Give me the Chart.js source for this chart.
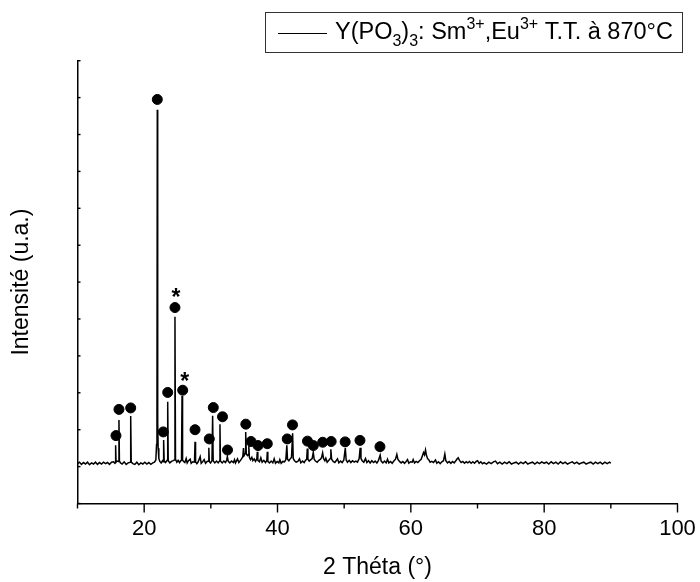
<!DOCTYPE html>
<html>
<head>
<meta charset="utf-8">
<script src="https://cdn.jsdelivr.net/npm/chart.js@4/dist/chart.umd.min.js"></script>
<style>
  body { margin: 0; background: #fff; }
  #chart { display: block; }
</style>
</head>
<body>
<canvas id="chart" width="700" height="582"></canvas>
<script>
// XRD scan: [2 theta, intensity (a.u.)]
const scan = [
  [10.0,1.08],[10.3,1.12],[10.6,1.06],[10.9,1.11],[11.2,1.07],[11.5,1.12],[11.8,1.05],[12.1,1.10],
  [12.4,1.07],[12.7,1.12],[13.0,1.06],[13.3,1.11],[13.6,1.07],[13.9,1.12],[14.2,1.08],[14.5,1.11],
  [14.8,1.06],[15.1,1.12],[15.4,1.13],[15.6,1.09],[15.66,1.11],[15.72,1.58],[15.78,1.12],[15.95,1.15],
  [16.15,1.14],[16.22,2.26],[16.29,1.15],[16.45,1.10],[16.7,1.07],[17.0,1.13],[17.3,1.06],[17.6,1.10],
  [17.9,1.12],[17.98,2.37],[18.06,1.12],[18.3,1.08],[18.6,1.06],[18.9,1.12],[19.2,1.05],[19.5,1.10],
  [19.8,1.07],[20.1,1.12],[20.4,1.07],[20.7,1.11],[21.0,1.06],[21.3,1.10],[21.55,1.12],[21.75,1.18],
  [21.86,1.6],[21.92,2.4],[21.97,10.67],[22.03,2.2],[22.1,1.5],[22.2,1.22],[22.35,1.14],[22.55,1.10],
  [22.75,1.16],[22.84,1.13],[22.92,1.72],[23.0,1.15],[23.2,1.11],[23.45,1.17],[23.53,2.76],[23.61,1.16],
  [23.85,1.10],[24.1,1.14],[24.35,1.16],[24.54,1.18],[24.62,5.06],[24.7,1.2],[24.9,1.12],[25.1,1.17],
  [25.3,1.11],[25.5,1.16],[25.6,1.17],[25.68,2.91],[25.76,1.17],[25.95,1.13],[26.1,1.11],[26.3,1.22],
  [26.45,1.10],[26.65,1.16],[26.9,1.20],[27.05,1.09],[27.3,1.13],[27.55,1.12],[27.63,1.67],[27.71,1.13],
  [27.9,1.08],[28.1,1.13],[28.4,1.27],[28.55,1.09],[28.8,1.14],[29.0,1.19],[29.2,1.09],[29.45,1.14],
  [29.63,1.15],[29.7,1.51],[29.77,1.14],[29.95,1.10],[30.17,1.16],[30.27,2.38],[30.35,1.16],[30.6,1.10],
  [30.85,1.15],[31.1,1.10],[31.3,1.15],[31.37,2.15],[31.44,1.15],[31.7,1.10],[31.95,1.15],[32.2,1.11],
  [32.38,1.18],[32.48,1.27],[32.6,1.15],[32.85,1.10],[33.1,1.15],[33.4,1.11],[33.55,1.19],[33.7,1.10],
  [34.0,1.21],[34.2,1.11],[34.45,1.17],[34.65,1.22],[34.8,1.28],[34.9,1.5],[35.0,1.3],[35.15,1.35],
  [35.23,1.94],[35.32,1.35],[35.5,1.3],[35.63,1.32],[35.7,1.56],[35.78,1.25],[35.95,1.19],[36.15,1.25],
  [36.3,1.16],[36.5,1.21],[36.7,1.14],[36.9,1.21],[36.97,1.40],[37.05,1.17],[37.3,1.13],[37.5,1.24],
  [37.7,1.12],[37.95,1.17],[38.2,1.11],[38.4,1.17],[38.47,1.40],[38.55,1.14],[38.8,1.10],[39.05,1.15],
  [39.3,1.10],[39.5,1.21],[39.7,1.09],[39.95,1.14],[40.2,1.10],[40.35,1.19],[40.55,1.09],[40.8,1.14],
  [41.05,1.13],[41.25,1.19],[41.4,1.58],[41.5,1.2],[41.7,1.16],[41.9,1.21],[42.1,1.25],[42.27,1.90],
  [42.36,1.22],[42.55,1.16],[42.8,1.12],[43.05,1.14],[43.3,1.21],[43.5,1.10],[43.75,1.15],[44.0,1.11],
  [44.2,1.17],[44.38,1.2],[44.47,1.49],[44.56,1.2],[44.75,1.15],[45.0,1.19],[45.2,1.22],[45.37,1.39],
  [45.5,1.2],[45.7,1.15],[45.95,1.12],[46.2,1.17],[46.45,1.2],[46.6,1.24],[46.77,1.37],[46.9,1.22],
  [47.1,1.16],[47.25,1.23],[47.45,1.12],[47.7,1.17],[47.9,1.22],[48.0,1.47],[48.12,1.2],[48.35,1.14],
  [48.6,1.11],[48.8,1.16],[49.0,1.21],[49.2,1.10],[49.45,1.15],[49.7,1.11],[49.95,1.18],[50.17,1.50],
  [50.3,1.18],[50.5,1.12],[50.75,1.17],[51.0,1.11],[51.25,1.16],[51.5,1.12],[51.75,1.15],[52.0,1.12],
  [52.25,1.22],[52.4,1.51],[52.52,1.22],[52.7,1.16],[52.95,1.12],[53.2,1.22],[53.4,1.11],[53.65,1.16],
  [53.9,1.10],[54.15,1.16],[54.4,1.11],[54.65,1.15],[54.9,1.10],[55.15,1.17],[55.4,1.31],[55.55,1.15],
  [55.8,1.10],[56.05,1.15],[56.3,1.10],[56.5,1.20],[56.7,1.10],[56.95,1.14],[57.2,1.09],[57.45,1.15],
  [57.7,1.2],[57.9,1.33],[58.05,1.2],[58.3,1.14],[58.55,1.10],[58.8,1.14],[59.05,1.09],[59.3,1.14],
  [59.5,1.19],[59.7,1.09],[59.95,1.13],[60.2,1.12],[60.35,1.19],[60.55,1.10],[60.8,1.14],[61.05,1.11],
  [61.3,1.16],[61.55,1.2],[61.75,1.3],[61.9,1.38],[62.05,1.32],[62.2,1.45],[62.35,1.3],[62.5,1.22],
  [62.7,1.18],[62.9,1.12],[63.15,1.14],[63.4,1.11],[63.7,1.18],[63.9,1.09],[64.15,1.13],[64.4,1.08],
  [64.65,1.13],[64.9,1.16],[65.1,1.34],[65.25,1.16],[65.5,1.10],[65.75,1.14],[66.0,1.09],[66.25,1.14],
  [66.5,1.10],[66.75,1.16],[66.9,1.2],[67.1,1.24],[67.3,1.17],[67.55,1.11],[67.8,1.14],[68.05,1.09],
  [68.3,1.13],[68.55,1.10],[68.8,1.14],[69.05,1.09],[69.3,1.13],[69.55,1.09],[69.8,1.14],[70.0,1.16],
  [70.25,1.09],[70.5,1.13],[70.75,1.08],[71.0,1.11],[71.35,1.07],[71.7,1.12],[72.05,1.08],[72.4,1.13],
  [72.7,1.15],[73.0,1.08],[73.35,1.12],[73.7,1.07],[74.05,1.12],[74.4,1.08],[74.75,1.13],[75.1,1.07],
  [75.45,1.10],[75.8,1.12],[76.15,1.07],[76.5,1.12],[76.85,1.08],[77.2,1.13],[77.55,1.07],[77.9,1.10],
  [78.25,1.12],[78.6,1.07],[78.95,1.12],[79.3,1.08],[79.65,1.13],[80.0,1.09],[80.35,1.12],[80.7,1.07],
  [81.05,1.13],[81.4,1.08],[81.75,1.12],[82.1,1.07],[82.45,1.13],[82.8,1.08],[83.15,1.12],[83.5,1.07],
  [83.85,1.10],[84.2,1.13],[84.55,1.08],[84.9,1.12],[85.25,1.07],[85.6,1.10],[85.95,1.12],[86.3,1.07],
  [86.65,1.10],[87.0,1.12],[87.35,1.07],[87.7,1.12],[88.05,1.08],[88.4,1.12],[88.75,1.07],[89.1,1.12],
  [89.45,1.08],[89.8,1.12],[90.0,1.09]
];

// filled circles above the indexed reflections
const circleTheta = [15.77, 16.22, 17.98, 21.97, 22.87, 23.53, 24.62, 25.78, 27.63, 29.77, 30.37, 31.75, 32.5,
  35.25, 36.03, 37.08, 38.47, 41.46, 42.25, 44.5, 45.37, 46.78, 48.05, 50.15, 52.37, 55.37];
const circleLevel = [1.84, 2.55, 2.59, 10.95, 1.94, 3.01, 5.31, 3.07, 2.0, 1.75, 2.6, 2.35, 1.45,
  2.15, 1.68, 1.57, 1.62, 1.75, 2.13, 1.69, 1.57, 1.66, 1.68, 1.67, 1.71, 1.54];

// asterisks (second phase)
const starTheta = [24.77, 26.08];
const starLevel = [5.73, 3.47];

const xLabeled = [20, 40, 60, 80, 100];

const legendParts = [
  { text: "Y(PO", shift: 0 },
  { text: "3", shift: -1 },
  { text: ")", shift: 0 },
  { text: "3", shift: -1 },
  { text: ": Sm", shift: 0 },
  { text: "3+", shift: 1 },
  { text: ",Eu", shift: 0 },
  { text: "3+", shift: 1 },
  { text: " T.T. à 870°C", shift: 0 }
];

const FONT = "'Liberation Sans', Arial, sans-serif";
Chart.defaults.color = "#000";
Chart.defaults.font.family = FONT;

const decorPlugin = {
  id: "decor",
  afterDraw(chart) {
    const { ctx, scales: { x, y } } = chart;
    ctx.save();
    ctx.strokeStyle = "#000";
    ctx.lineWidth = 1.4;

    // x ticks, outward, short minor ones
    x.ticks.forEach((t) => {
      const px = x.getPixelForValue(t.value);
      const len = xLabeled.includes(t.value) ? 9 : 5;
      ctx.beginPath();
      ctx.moveTo(px, x.top);
      ctx.lineTo(px, x.top + len);
      ctx.stroke();
    });
    // y ticks, small and inward
    y.ticks.forEach((t) => {
      const py = y.getPixelForValue(t.value);
      ctx.beginPath();
      ctx.moveTo(y.right, py);
      ctx.lineTo(y.right + 3, py);
      ctx.stroke();
    });

    // asterisks
    ctx.fillStyle = "#000";
    ctx.font = "bold 23px " + FONT;
    ctx.textAlign = "center";
    ctx.textBaseline = "alphabetic";
    starTheta.forEach((v, i) => {
      ctx.fillText("*", x.getPixelForValue(v), y.getPixelForValue(starLevel[i]) + 13.3);
    });

    // legend box
    ctx.lineWidth = 1;
    ctx.strokeStyle = "#333";
    ctx.strokeRect(265.5, 12.5, 417, 40);
    ctx.strokeStyle = "#000";
    ctx.beginPath();
    ctx.moveTo(278, 33.5);
    ctx.lineTo(327, 33.5);
    ctx.stroke();
    ctx.textAlign = "left";
    let cx = 335;
    const base = 39;
    legendParts.forEach((p) => {
      ctx.font = (p.shift === 0 ? "23.5px " : "16px ") + FONT;
      const dy = p.shift === 0 ? 0 : p.shift < 0 ? 7 : -10;
      ctx.fillText(p.text, cx, base + dy);
      cx += ctx.measureText(p.text).width;
    });
    ctx.restore();
  }
};

new Chart(document.getElementById("chart"), {
  type: "line",
  data: {
    datasets: [
      {
        data: scan.map(([a, b]) => ({ x: a, y: b })),
        borderColor: "#000",
        borderWidth: 1.5,
        pointRadius: 0,
        tension: 0,
        fill: false
      },
      {
        type: "scatter",
        data: circleTheta.map((v, i) => ({ x: v, y: circleLevel[i] })),
        backgroundColor: "#000",
        borderColor: "#000",
        pointRadius: 5,
        showLine: false
      }
    ]
  },
  options: {
    responsive: false,
    animation: false,
    layout: { padding: { top: 60.7, right: 22.5, left: 0, bottom: 0 } },
    plugins: { legend: { display: false }, tooltip: { enabled: false } },
    scales: {
      x: {
        type: "linear",
        min: 10,
        max: 100,
        grid: { display: false, drawTicks: false },
        border: { display: true, color: "#000", width: 1.5 },
        ticks: {
          stepSize: 10,
          autoSkip: false,
          maxRotation: 0,
          padding: 12,
          font: { size: 22 },
          callback: (v) => (xLabeled.includes(v) ? String(v) : "")
        },
        title: { display: true, text: "2 Théta (°)", font: { size: 23 }, padding: { top: 0, bottom: 1 } },
        afterFit: (s) => { s.height = 78.5; s.paddingLeft = 0; s.paddingRight = 0; }
      },
      y: {
        min: 0,
        max: 12,
        grid: { display: false, drawTicks: false },
        border: { display: true, color: "#000", width: 1.5 },
        ticks: { stepSize: 1, display: false },
        title: { display: true, text: "Intensité (u.a.)", font: { size: 23 }, padding: { top: 8, bottom: 0 } },
        afterFit: (s) => { s.width = 77.5; s.paddingTop = 0; s.paddingBottom = 0; }
      }
    }
  },
  plugins: [decorPlugin]
});
</script>
</body>
</html>
